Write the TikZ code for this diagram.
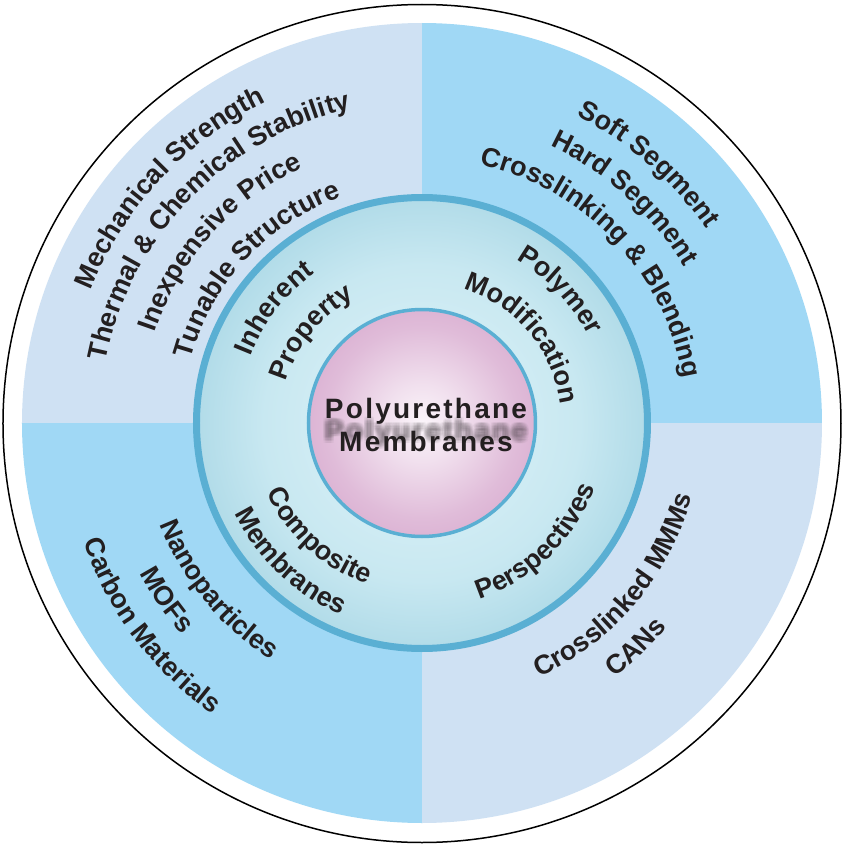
\documentclass[tikz,border=0pt]{standalone}
\usepackage{fontspec}
\setmainfont{Liberation Sans}
\newfontfamily\cfont[LetterSpace=8]{Liberation Sans}
\usetikzlibrary{decorations.text}
\definecolor{lq}{HTML}{CFE1F3}
\definecolor{dq}{HTML}{A0D8F5}
\definecolor{ringc}{HTML}{5AAFD3}
\definecolor{midc}{HTML}{E0F3F8}
\definecolor{midin}{HTML}{C8E8F1}
\definecolor{midmid}{HTML}{ABD8E6}
\definecolor{midout}{HTML}{8EC6D9}
\definecolor{pinkin}{HTML}{FBF5FA}
\definecolor{pinka}{HTML}{F1E0EE}
\definecolor{pinkb}{HTML}{E0BCD9}
\definecolor{pinkout}{HTML}{D3A1C9}
\definecolor{txt}{HTML}{231F20}
\definecolor{shadowc}{HTML}{4A4348}
\newcommand\af{\bfseries\fontsize{27}{30}\selectfont}
\pgfdeclareradialshading{midsh}{\pgfpoint{0bp}{0bp}}{color(0bp)=(midc); color(17.5bp)=(midin); color(27bp)=(midmid); color(35.4bp)=(midout); color(50bp)=(midout)}
\pgfdeclareradialshading{pinksh}{\pgfpoint{0bp}{0bp}}{color(0bp)=(pinkin); color(8.5bp)=(pinka); color(21bp)=(pinkb); color(35.4bp)=(pinkout); color(50bp)=(pinkout)}
\tikzset{
  arct/.style={decorate, decoration={text along path, text align=center, text color=txt, text={|\af|#1}}},
  ctext/.style={font=\cfont\bfseries\fontsize{28}{32}\selectfont, text=txt, anchor=base, inner sep=0pt},
  shtext/.style={font=\cfont\bfseries\fontsize{28}{32}\selectfont, text=shadowc, anchor=base, inner sep=0pt, opacity=0.04}
}
% clockwise arc (text on top half, letters pointing outward)
\newcommand\toparc[3]{\path[arct={#3}] ({#1+75}:#2) arc[start angle={#1+75}, end angle={#1-75}, radius=#2];}
% counter-clockwise arc (text on bottom half, letters pointing inward)
\newcommand\botarc[3]{\path[arct={#3}] ({#1-75}:#2) arc[start angle={#1-75}, end angle={#1+75}, radius=#2];}
\begin{document}
\begin{tikzpicture}[x=1pt,y=1pt]
\useasboundingbox (-422,-424) rectangle (421,423);
% outer white ring
\draw[line width=1.5pt, fill=white] (0,-0.5) circle (419);
% quadrants
\begin{scope}
  \clip (0,0) circle (400);
  \fill[lq] (-401,0) rectangle (0,401);
  \fill[dq] (0,0) rectangle (401,401);
  \fill[dq] (-401,-401) rectangle (0,0);
  \fill[lq] (0,-401) rectangle (401,0);
\end{scope}
% middle circle
\shade[shading=midsh] (0,0) circle (225.5);
\draw[ringc, line width=7pt] (0,0) circle (225.5);
% inner circle
\shade[shading=pinksh] (0,0) circle (113.5);
\draw[ringc, line width=3.5pt] (0,0) circle (113.5);
% top-left outer texts
\toparc{137}{357}{Mechanical Strength}
\toparc{135.8}{322}{Thermal {\&} Chemical Stability}
\toparc{138.2}{282}{Inexpensive Price}
\toparc{137.2}{240}{Tunable Structure}
% top-right outer texts
\toparc{48.8}{344}{Soft Segment}
\toparc{48}{305}{Hard Segment}
\toparc{43.5}{265}{Crosslinking {\&} Blending}
% inner ring top
\toparc{142.2}{184}{Inherent}
\toparc{140.8}{142}{Property}
\toparc{43.8}{188}{Polymer}
\toparc{40.1}{140}{Modification}
% inner ring bottom
\botarc{227.7}{170}{Composite}
\botarc{226.5}{208}{Membranes}
\botarc{313.8}{185}{Perspectives}
% bottom-left outer
\botarc{219.3}{281}{Nanoparticles}
\botarc{214.7}{320}{MOFs}
\botarc{216.8}{359}{Carbon Materials}
% bottom-right outer
\botarc{319.8}{280}{Crosslinked MMMs}
\botarc{313.6}{319}{CANs}
% centre text with blurred shadow
\foreach \dx in {-3,-1.5,0,1.5,3}{
  \foreach \dy in {-3,-1.5,0,1.5,3}{
    \node[shtext] (sh\dx\dy) at (4+\dx,-17+\dy) {Polyurethane};
  }
}
\node[ctext] (poly) at (4,5) {Polyurethane};
\node[ctext] (memb) at (4,-28) {Membranes};
\end{tikzpicture}
\end{document}
